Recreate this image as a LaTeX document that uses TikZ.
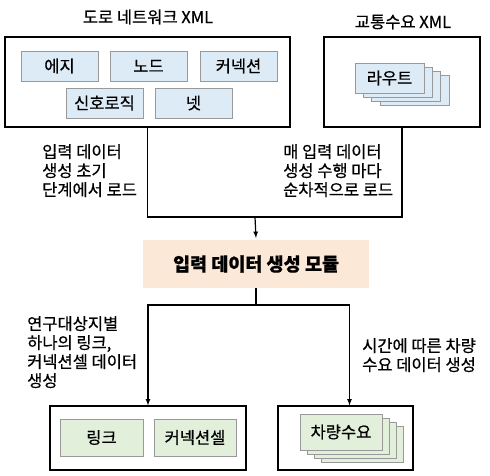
\documentclass[tikz,border=0pt]{standalone}
\usepackage{fontspec}
\setmainfont{Noto Sans CJK KR}[FakeBold=0.6]
\usetikzlibrary{shapes,arrows,positioning}

\definecolor{xmlblue}{HTML}{DDEBF7}
\definecolor{genfill}{HTML}{E2EFDA}
\definecolor{modfill}{HTML}{FCE8D6}

\begin{document}
\begin{tikzpicture}[x=1pt,y=-1pt,
    font=\fontsize{16.5}{19}\selectfont,
    outer/.style={draw=black,line width=1.2pt,minimum height=90pt,inner sep=0pt},
    xmlbox/.style={draw=gray!80,fill=xmlblue,line width=0.8pt,minimum width=77pt,minimum height=30pt,inner sep=0pt},
    genbox/.style={draw=gray!80,fill=genfill,line width=0.8pt,minimum width=83pt,minimum height=37pt,inner sep=0pt},
    note/.style={anchor=north west,align=left,inner sep=0pt}]
				\useasboundingbox (0,0) rectangle (490,476);
				
				% input xml files
				\node at (148,17) (nettitle) {도로 네트워크 XML};
				\node at (403,22) (demtitle) {교통수요 XML};
				\node[outer,minimum width=285pt] at (147.5,82) (network) {};
				\node[outer,minimum width=156pt] at (402,82) (demand) {};
				
				\node[xmlbox] at (59.5,66) (edge) {에지};
				\node[xmlbox] at (148.5,66) (node) {노드};
				\node[xmlbox] at (238.5,66) (conn) {커넥션};
				\node[xmlbox] at (104.5,103) (tls) {신호로직};
				\node[xmlbox] at (193.5,103) (net) {넷};
				
				\node[xmlbox,minimum width=69pt] at (414.4,90) (route3) {};
				\node[xmlbox,minimum width=69pt] at (406.1,86) (route2) {};
				\node[xmlbox,minimum width=69pt] at (397.8,82) (route1) {};
				\node[xmlbox,minimum width=69pt] at (389.5,78) (route) {라우트};
				
				% loading into the module
				\coordinate (join) at (255,217);
				\draw[line width=1.2pt] (network.south) |- (join);
				\draw[line width=1.2pt] (demand.south) |- (join);
				\draw[line width=1.2pt,-latex] (join) -- (256,238);
				
				\node[note] at (42,144) (loadonce) {입력 데이터\\생성 초기\\단계에서 로드};
				\node[note] at (283,144) (loadeach) {매 입력 데이터\\생성 수행 마다\\순차적으로 로드};
				
				\node[fill=modfill,minimum width=226pt,minimum height=48pt,font=\fontsize{18.5}{19}\selectfont\bfseries] at (256,264) (module) {입력 데이터 생성 모듈};
				
				% generated data
				\coordinate (split) at (256,305);
				\draw[line width=1.2pt] (module.south) -- (split);
				\node[outer,minimum width=196pt,minimum height=64pt] at (148,438) (links) {};
				\node[outer,minimum width=135pt,minimum height=64pt] at (345.5,438) (vehicles) {};
				\draw[line width=1.2pt,-latex] (split) -| (links.north);
				\draw[line width=1.2pt,-latex] (split) -| ([xshift=4pt]vehicles.north);
				
				\node[note] at (27,316) (perarea) {연구대상지별\\하나의 링크,\\커넥션셀 데이터\\생성};
				\node[note] at (362,338) (pertime) {시간에 따른 차량\\수요 데이터 생성};
				
				\node[genbox] at (101.5,437.5) (link) {링크};
				\node[genbox,minimum width=82pt] at (195,437.5) (cell) {커넥션셀};
				
				\node[genbox,minimum width=82pt,minimum height=36pt] at (362,444) (veh3) {};
				\node[genbox,minimum width=82pt,minimum height=36pt] at (355,440) (veh2) {};
				\node[genbox,minimum width=82pt,minimum height=36pt] at (348,436) (veh1) {};
				\node[genbox,minimum width=82pt,minimum height=36pt] at (341,432) (veh) {차량수요};
			\end{tikzpicture}
\end{document}
